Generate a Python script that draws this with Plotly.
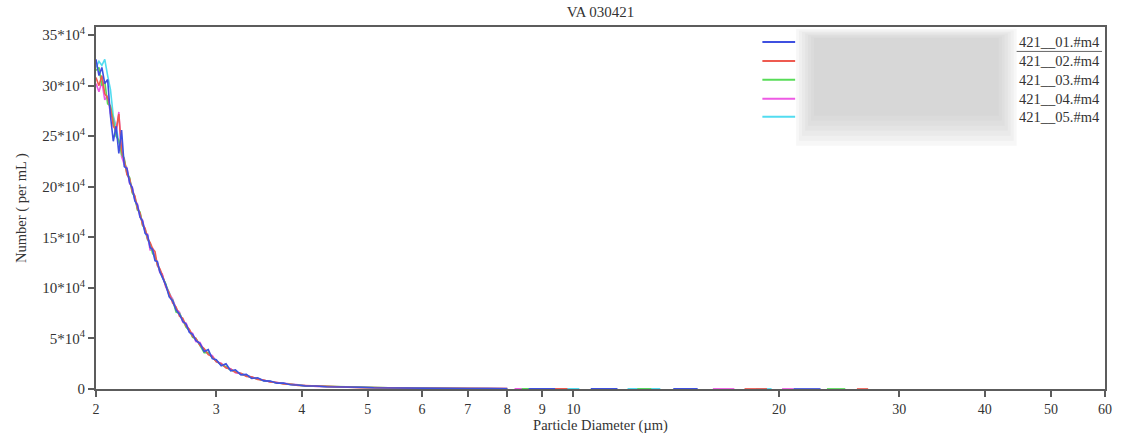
import plotly.graph_objects as go

# ---------------- data (values in units of 10^4 per mL) ----------------
title_text = "VA 030421"
series_names = ["VA 030421__01.#m4", "VA 030421__02.#m4", "VA 030421__03.#m4",
                "VA 030421__04.#m4", "VA 030421__05.#m4"]
legend_visible = ["421__01.#m4", "421__02.#m4", "421__03.#m4", "421__04.#m4", "421__05.#m4"]
series_colors = ["#3f50e0", "#ee5a50", "#58dc58", "#ee5ae4", "#52dcf0"]

diam = [2.00, 2.02, 2.04, 2.06, 2.08, 2.10, 2.12, 2.14, 2.16, 2.18, 2.20, 2.22, 2.24, 2.26, 2.28,
        2.30, 2.32, 2.34, 2.36, 2.38, 2.40, 2.42, 2.44, 2.46, 2.48, 2.50, 2.53, 2.56, 2.59, 2.62,
        2.65, 2.68, 2.71, 2.74, 2.77, 2.80, 2.84, 2.88, 2.92, 2.96, 3.00, 3.05, 3.10, 3.15, 3.20,
        3.26, 3.32, 3.38, 3.45, 3.52, 3.60, 3.68, 3.76, 3.85, 3.95, 4.05, 4.2, 4.35, 4.5, 4.7,
        4.9, 5.1, 5.35, 5.6, 5.9, 6.2, 6.6, 7.0, 7.5, 8.0]

s01 = [32.6, 31.0, 31.8, 30.2, 30.6, 27.0, 24.5, 26.0, 23.3, 25.6, 22.0, 21.8, 20.4, 19.9, 18.6,
       18.2, 17.0, 16.6, 15.4, 15.2, 14.0, 13.8, 12.7, 12.6, 11.6, 11.0, 10.3, 9.1, 8.7, 7.8,
       7.4, 6.7, 6.4, 5.6, 5.4, 4.8, 4.5, 3.7, 3.9, 3.0, 2.9, 2.3, 2.5, 1.8, 1.9,
       1.4, 1.45, 1.05, 1.1, 0.8, 0.78, 0.58, 0.6, 0.42, 0.4, 0.3, 0.3, 0.22, 0.22, 0.16,
       0.17, 0.12, 0.12, 0.09, 0.085, 0.06, 0.065, 0.045, 0.04, 0.03]
s02 = [30.8, 30.0, 31.0, 29.2, 28.8, 27.8, 26.0, 25.6, 27.2, 23.6, 22.6, 21.2, 20.8, 19.5, 19.1,
       17.8, 17.4, 16.2, 15.9, 14.8, 14.5, 13.9, 13.6, 12.2, 11.9, 11.3, 10.2, 9.5, 8.5, 8.1,
       7.2, 7.0, 6.2, 5.9, 5.2, 5.0, 4.3, 4.0, 3.4, 3.2, 2.7, 2.5, 2.1, 1.95, 1.65,
       1.55, 1.25, 1.2, 0.95, 0.88, 0.7, 0.64, 0.5, 0.47, 0.36, 0.33, 0.26, 0.24, 0.19, 0.18,
       0.14, 0.14, 0.1, 0.1, 0.075, 0.07, 0.055, 0.05, 0.035, 0.035]
s03 = [31.5, 31.8, 30.0, 30.4, 28.2, 28.0, 26.6, 25.0, 24.6, 23.2, 22.8, 21.3, 20.9, 19.4, 19.0,
       17.7, 17.5, 16.2, 15.8, 14.9, 14.4, 13.4, 13.1, 12.3, 11.7, 11.1, 10.4, 9.2, 8.8, 7.6,
       7.5, 6.8, 6.1, 5.8, 5.1, 5.0, 4.3, 3.6, 3.6, 3.1, 2.75, 2.4, 2.2, 1.85, 1.75,
       1.45, 1.35, 1.1, 1.02, 0.82, 0.74, 0.6, 0.55, 0.44, 0.39, 0.31, 0.28, 0.22, 0.21, 0.16,
       0.16, 0.12, 0.115, 0.09, 0.08, 0.065, 0.06, 0.045, 0.045, 0.03]
s04 = [30.2, 29.4, 30.4, 28.6, 29.0, 27.2, 26.8, 25.2, 27.4, 23.0, 22.2, 21.9, 20.3, 20.0, 18.7,
       18.3, 17.0, 16.7, 15.5, 15.3, 13.7, 13.9, 12.9, 12.5, 11.5, 11.4, 10.1, 9.4, 8.9, 7.9,
       7.6, 6.6, 6.5, 5.7, 5.5, 4.7, 4.6, 3.8, 3.5, 3.3, 2.7, 2.55, 2.1, 2.0, 1.6,
       1.5, 1.3, 1.15, 0.98, 0.86, 0.7, 0.63, 0.52, 0.46, 0.37, 0.34, 0.26, 0.23, 0.2, 0.17,
       0.15, 0.13, 0.105, 0.1, 0.08, 0.07, 0.06, 0.05, 0.04, 0.035]
s05 = [31.8, 32.4, 32.0, 32.6, 31.0, 29.6, 27.0, 26.0, 24.4, 24.0, 22.5, 21.6, 20.5, 19.6, 18.8,
       17.9, 17.3, 16.3, 15.6, 14.8, 14.2, 13.5, 13.1, 12.3, 11.8, 11.2, 10.3, 9.5, 8.7, 8.0,
       7.4, 6.8, 6.3, 5.7, 5.3, 4.9, 4.4, 3.9, 3.5, 3.1, 2.8, 2.45, 2.15, 1.9, 1.7,
       1.5, 1.3, 1.15, 1.0, 0.85, 0.72, 0.62, 0.53, 0.45, 0.38, 0.32, 0.27, 0.23, 0.2, 0.17,
       0.15, 0.13, 0.11, 0.095, 0.08, 0.07, 0.06, 0.05, 0.04, 0.035]

# sparse tail segments (None = gap, bins without counts)
tail01_x = [8.6, 9.4, None, 10.6, 11.6, None, 14.0, 15.2, None, 21.0, 23.0]
tail01_y = [0.03, 0.02, None, 0.02, 0.015, None, 0.012, 0.01, None, 0.008, 0.008]
tail02_x = [9.0, 9.8, None, 17.8, 19.2, None, 26.0, 27.0]
tail02_y = [0.025, 0.02, None, 0.01, 0.01, None, 0.006, 0.006]
tail03_x = [8.4, 8.9, None, 12.4, 13.0, None, 23.5, 25.0]
tail03_y = [0.03, 0.025, None, 0.012, 0.012, None, 0.008, 0.008]
tail04_x = [8.2, 8.8, None, 16.0, 17.2, None, 20.2, 21.0]
tail04_y = [0.03, 0.025, None, 0.01, 0.01, None, 0.008, 0.008]
tail05_x = [9.6, 10.2, None, 12.0, 13.4, None, 18.5, 19.5]
tail05_y = [0.02, 0.02, None, 0.012, 0.012, None, 0.01, 0.01]

x_tickvals = [2, 3, 4, 5, 6, 7, 8, 9, 10, 20, 30, 40, 50, 60]
y_tickvals = [0, 5, 10, 15, 20, 25, 30, 35]
y_ticktext = ["0"] + [f"{v}*10<sup>4</sup>" for v in y_tickvals[1:]]

# ---------------- figure ----------------
W, H = 1121, 438
L, R, T, B = 96, 1112, 27, 390
FONT = "Liberation Serif"
AX = "#5c5c5c"
TXT = "#333333"

def px2x(px):
    return (px - L) / (R - L)

def py2y(py):
    return (B - py) / (B - T)

main = [s01, s02, s03, s04, s05]
tails = [(tail01_x, tail01_y), (tail02_x, tail02_y), (tail03_x, tail03_y),
         (tail04_x, tail04_y), (tail05_x, tail05_y)]

fig = go.Figure()
for i in [4, 3, 2, 1, 0]:
    tx, ty = tails[i]
    fig.add_trace(go.Scatter(x=diam + [None] + tx, y=main[i] + [None] + ty, mode="lines",
                             name=series_names[i], showlegend=False,
                             line=dict(color=series_colors[i], width=1.6), connectgaps=False))

shapes = []
annotations = []
# legend (manual)
row_y = [42, 61, 80, 99, 117]
for i in range(5):
    shapes.append(dict(type="line", xref="paper", yref="paper",
                       x0=px2x(767), x1=px2x(800), y0=py2y(row_y[i]), y1=py2y(row_y[i]),
                       line=dict(color=series_colors[i], width=2)))
    annotations.append(dict(xref="paper", yref="paper", x=px2x(1109), y=py2y(row_y[i]),
                            xanchor="right", yanchor="middle", text=legend_visible[i],
                            showarrow=False, font=dict(family=FONT, size=14.5, color=TXT)))
# blurred (obscured) label area: stacked translucent rectangles for a soft edge
for k in range(7):
    x0, x1 = 801 + 3 * k, 1023 - 3 * k
    y0, y1 = 29 + 1.5 * k, 146 - 5 * k
    shapes.append(dict(type="rect", xref="paper", yref="paper", layer="above",
                       x0=px2x(x0), x1=px2x(x1), y0=py2y(y1), y1=py2y(y0),
                       fillcolor="rgba(190,190,190,0.13)", line=dict(width=0)))
shapes.append(dict(type="line", xref="paper", yref="paper", x0=px2x(1023), x1=px2x(1109),
                   y0=py2y(51.5), y1=py2y(51.5), line=dict(color="#666666", width=1)))

fig.update_layout(
    width=W, height=H,
    margin=dict(l=L, r=W - R, t=T, b=H - B, pad=0),
    paper_bgcolor="white", plot_bgcolor="white",
    title=dict(text=title_text, x=0.5, xref="paper", y=1 - 12 / H, yanchor="middle",
               font=dict(family=FONT, size=15, color=TXT)),
    font=dict(family=FONT, size=14, color=TXT),
    shapes=shapes, annotations=annotations,
    showlegend=False,
)
fig.update_xaxes(type="log", range=[0.30103, 1.77815], tickvals=x_tickvals,
                 ticktext=[str(v) for v in x_tickvals],
                 showgrid=False, zeroline=False, showline=True, linecolor=AX, linewidth=2,
                 mirror=True, ticks="outside", ticklen=6, tickwidth=2, tickcolor=AX,
                 tickfont=dict(family=FONT, size=14, color=TXT),
                 title=dict(text="Particle Diameter (µm)", standoff=2,
                            font=dict(family=FONT, size=14.5, color=TXT)))
fig.update_yaxes(range=[0, 35.8], tickvals=y_tickvals, ticktext=y_ticktext,
                 showgrid=False, zeroline=False, showline=True, linecolor=AX, linewidth=2,
                 mirror=True, ticks="outside", ticklen=6, tickwidth=2, tickcolor=AX,
                 tickfont=dict(family=FONT, size=15, color=TXT),
                 title=dict(text="Number ( per mL )", standoff=12,
                            font=dict(family=FONT, size=14.5, color=TXT)))

fig.write_html("out.html", config={"displayModeBar": False},
               post_script="document.body.style.margin='0px';document.body.style.overflow='hidden';")
